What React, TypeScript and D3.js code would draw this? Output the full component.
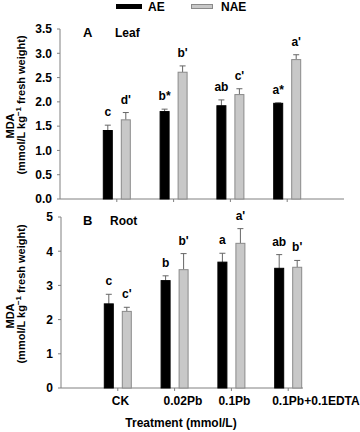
import React from "react";
import * as d3 from "d3";

const categories = ["CK", "0.02Pb", "0.1Pb", "0.1Pb+0.1EDTA"];
const seriesNames = ["AE", "NAE"];
const leafAE = [1.41, 1.8, 1.92, 1.97];
const leafAEErr = [0.11, 0.05, 0.12, 0.01];
const leafNAE = [1.63, 2.61, 2.15, 2.87];
const leafNAEErr = [0.15, 0.13, 0.12, 0.1];
const leafAELetters = ["c", "b*", "ab", "a*"];
const leafNAELetters = ["d'", "b'", "c'", "a'"];
const rootAE = [2.46, 3.14, 3.68, 3.5];
const rootAEErr = [0.28, 0.14, 0.26, 0.4];
const rootNAE = [2.24, 3.46, 4.23, 3.53];
const rootNAEErr = [0.12, 0.47, 0.43, 0.2];
const rootAELetters = ["c", "b", "a", "ab"];
const rootNAELetters = ["c'", "b'", "a'", "b'"];
const leafTicks = [0, 0.5, 1.0, 1.5, 2.0, 2.5, 3.0, 3.5];
const rootTicks = [0, 1, 2, 3, 4, 5];

const FONT = "'Liberation Sans', Arial, Helvetica, sans-serif";
const AXIS = "#808080";
const GRAY = "#c8c8c8";
const GRAY_STROKE = "#8a8a8a";
const ERR = "#666";

type PanelProps = {
  ae: number[];
  aeErr: number[];
  nae: number[];
  naeErr: number[];
  aeLetters: string[];
  naeLetters: string[];
  ticks: number[];
  yMax: number;
  yTop: number;
  yBottom: number;
  xLeft: number;
  axisEnd: number;
  tickFmt: (v: number) => string;
  panel: string;
  name: string;
  nameX: number;
  labelLine1Y: number;
  labelLine2Y: number;
};

function Panel(p: PanelProps) {
  const x = d3.scaleLinear().domain([0, 5]).range([p.xLeft, p.xLeft + 284]);
  const y = d3.scaleLinear().domain([0, p.yMax]).range([p.yBottom, p.yTop]);
  const bw = 10;
  const off = 4;
  const bars = [
    { vals: p.ae, errs: p.aeErr, letters: p.aeLetters, fill: "#000", stroke: "#000", dx: -off - bw },
    { vals: p.nae, errs: p.naeErr, letters: p.naeLetters, fill: GRAY, stroke: GRAY_STROKE, dx: off },
  ];
  return (
    <g>
      <line x1={p.xLeft} x2={p.xLeft} y1={y(p.yMax)} y2={y(0)} stroke={AXIS} strokeWidth={1} />
      {p.ticks.map((t) => (
        <g key={t}>
          <line x1={p.xLeft - 3} x2={p.xLeft} y1={y(t)} y2={y(t)} stroke={AXIS} />
          <text x={p.xLeft - 8} y={y(t)} dy="0.36em" textAnchor="end" fontSize={12} fontWeight="bold" fontFamily={FONT}>
            {p.tickFmt(t)}
          </text>
        </g>
      ))}
      <line x1={p.xLeft} x2={p.axisEnd} y1={y(0)} y2={y(0)} stroke={AXIS} strokeWidth={1} />
      {categories.map((c, i) => (
        <line key={c} x1={x(i + 1)} x2={x(i + 1)} y1={y(0)} y2={y(0) + 3} stroke={AXIS} />
      ))}
      {bars.map((s, si) =>
        categories.map((c, i) => {
          const cx = x(i + 1);
          const bx = cx + s.dx;
          const top = y(s.vals[i]);
          const et = y(s.vals[i] + s.errs[i]);
          return (
            <g key={si + "-" + c}>
              <line x1={bx + bw / 2} x2={bx + bw / 2} y1={top} y2={et} stroke={ERR} strokeWidth={1} />
              <line x1={bx + bw / 2 - 3} x2={bx + bw / 2 + 3} y1={et} y2={et} stroke={ERR} strokeWidth={1} />
              <rect x={bx + 0.5} y={top} width={bw - 1} height={y(0) - top} fill={s.fill} stroke={s.stroke} strokeWidth={1} />
              <text x={bx + bw / 2} y={et - 9} textAnchor="middle" fontSize={12} fontWeight="bold" fontFamily={FONT}>
                {s.letters[i]}
              </text>
            </g>
          );
        })
      )}
      <text x={83} y={y(p.yMax) + 8} fontSize={13} fontWeight="bold" fontFamily={FONT}>{p.panel}</text>
      <text x={p.nameX} y={y(p.yMax) + 8} fontSize={12} fontWeight="bold" fontFamily={FONT}>{p.name}</text>
      <text transform={`translate(14,${p.labelLine1Y}) rotate(-90)`} textAnchor="middle" fontSize={11} fontWeight="bold" fontFamily={FONT}>MDA</text>
      <text transform={`translate(25,${p.labelLine2Y}) rotate(-90)`} textAnchor="middle" fontSize={11} fontWeight="bold" fontFamily={FONT}>
        (mmol/L kg<tspan dy="-4" fontSize={8}>−1</tspan><tspan dy="4"> fresh weight)</tspan>
      </text>
    </g>
  );
}

export default function App() {
  const xLbl = d3.scaleLinear().domain([0, 5]).range([61, 345]);
  const labelShift = [-6, -11, -13, -16];
  return (
    <svg width={360} height={432} style={{ position: "absolute", left: 0, top: 0, background: "#fff" }}>
      <rect width={360} height={432} fill="#fff" />
      <rect x={116} y={4} width={26} height={5} fill="#000" />
      <text x={148} y={11} fontSize={12} fontWeight="bold" fontFamily={FONT}>{seriesNames[0]}</text>
      <rect x={191.5} y={4.5} width={21} height={4} fill={GRAY} stroke={GRAY_STROKE} />
      <text x={221} y={11} fontSize={12} fontWeight="bold" fontFamily={FONT}>{seriesNames[1]}</text>

      <Panel
        ae={leafAE} aeErr={leafAEErr} nae={leafNAE} naeErr={leafNAEErr}
        aeLetters={leafAELetters} naeLetters={leafNAELetters}
        ticks={leafTicks} yMax={3.5} yTop={29} yBottom={199}
        xLeft={60} axisEnd={344} tickFmt={d3.format(".1f")}
        panel="A" name="Leaf" nameX={115} labelLine1Y={126} labelLine2Y={105}
      />
      <Panel
        ae={rootAE} aeErr={rootAEErr} nae={rootNAE} naeErr={rootNAEErr}
        aeLetters={rootAELetters} naeLetters={rootNAELetters}
        ticks={rootTicks} yMax={5} yTop={217} yBottom={388}
        xLeft={61} axisEnd={303} tickFmt={d3.format("d")}
        panel="B" name="Root" nameX={110} labelLine1Y={316} labelLine2Y={294}
      />
      {categories.map((c, i) => (
        <text key={c} x={xLbl(i + 1) + labelShift[i]} y={405} textAnchor="start" fontSize={12} fontWeight="bold" fontFamily={FONT}>
          {c}
        </text>
      ))}
      <text x={181} y={427} textAnchor="middle" fontSize={12} fontWeight="bold" fontFamily={FONT}>Treatment (mmol/L)</text>
    </svg>
  );
}
